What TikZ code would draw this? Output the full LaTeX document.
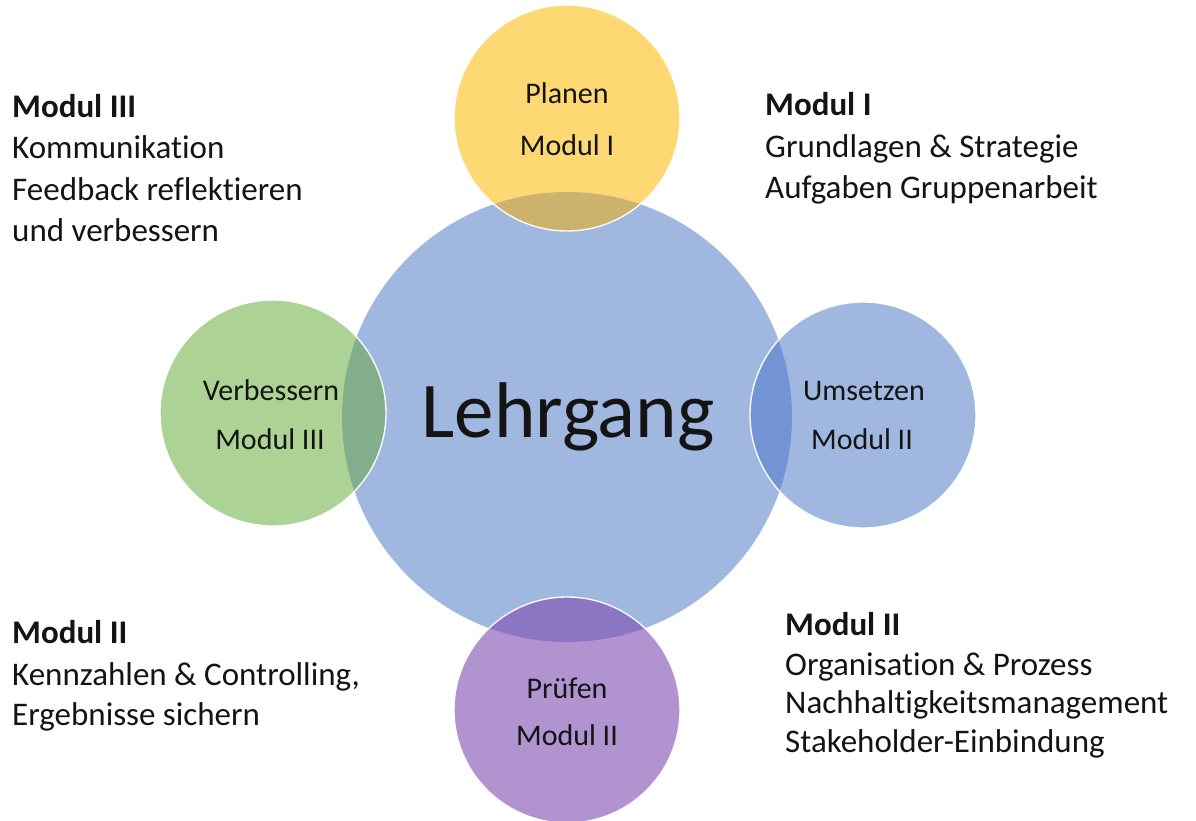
\documentclass[tikz,border=0pt]{standalone}
\usepackage{fontspec}
\setmainfont{Carlito}[RawFeature={-liga;-clig;-dlig;-calt}]
\definecolor{cyel}{RGB}{254,217,115}
\definecolor{cblue}{RGB}{160,183,223}
\definecolor{cgreen}{RGB}{172,210,150}
\definecolor{cpurp}{RGB}{177,147,208}
\definecolor{oyel}{RGB}{204,178,108}
\definecolor{oblue}{RGB}{115,148,212}
\definecolor{ogreen}{RGB}{130,174,140}
\definecolor{opurp}{RGB}{140,118,196}
\definecolor{txt}{RGB}{20,20,20}
\begin{document}
\begin{tikzpicture}[x=1pt,y=-1pt,
  bubble/.style={circle, inner sep=0pt, draw=none},
  rim/.style={draw=white, line width=1.3pt},
  clabel/.style={font=\fontsize{30}{36}\selectfont, anchor=base, inner sep=0pt, text=txt},
  sideline/.style={font=\fontsize{33}{40}\selectfont, anchor=base west, inner sep=0pt, text=txt},
  sidehead/.style={sideline, font=\fontsize{33}{40}\selectfont\bfseries},
  bigtitle/.style={font=\fontsize{79}{90}\selectfont, anchor=base, inner sep=0pt, text=txt}]
\useasboundingbox (0,0) rectangle (1196,820);
\fill[white] (0,0) rectangle (1196,820);

% circles
\node[bubble, fill=cblue, minimum size=450pt] (lehr) at (567,417) {};
\node[bubble, fill=cyel, minimum size=226pt] (plan) at (567,118) {};
\node[bubble, fill=cgreen, minimum size=226pt] (verb) at (273,413) {};
\node[bubble, fill=cblue, minimum size=226pt] (ums) at (863,415) {};
\node[bubble, fill=cpurp, minimum size=226pt] (pruef) at (567,710) {};

% overlaps
\begin{scope}
  \clip (lehr.center) circle[radius=225pt];
  \fill[oyel] (plan.center) circle[radius=113pt];
  \fill[ogreen] (verb.center) circle[radius=113pt];
  \fill[oblue] (ums.center) circle[radius=113pt];
  \fill[opurp] (pruef.center) circle[radius=113pt];
\end{scope}

% white rims
\draw[rim] (plan.center) circle[radius=113pt];
\draw[rim] (verb.center) circle[radius=113pt];
\draw[rim] (ums.center) circle[radius=113pt];
\draw[rim] (pruef.center) circle[radius=113pt];

% circle labels
\node[bigtitle] (t0) at (568,437) {Lehrgang};
\node[clabel] (t1a) at (567,103) {Planen};
\node[clabel] (t1b) at (567,155) {Modul I};
\node[clabel] (t2a) at (271,400) {Verbessern};
\node[clabel] (t2b) at (270,449) {Modul III};
\node[clabel] (t3a) at (864,400) {Umsetzen};
\node[clabel] (t3b) at (862,449) {Modul II};
\node[clabel] (t4a) at (567,698) {Prüfen};
\node[clabel] (t4b) at (567,745) {Modul II};

% side texts
\node[sidehead] (a0) at (12,117) {Modul III};
\node[sideline] (a1) at (12,158) {Kommunikation};
\node[sideline] (a2) at (12,200) {Feedback reflektieren};
\node[sideline] (a3) at (12,241) {und verbessern};

\node[sidehead] (b0) at (765,115) {Modul I};
\node[sideline] (b1) at (765,157) {Grundlagen \& Strategie};
\node[sideline] (b2) at (765,198) {Aufgaben Gruppenarbeit};

\node[sidehead] (c0) at (12,643) {Modul II};
\node[sideline] (c1) at (12,685) {Kennzahlen \& Controlling,};
\node[sideline] (c2) at (12,725) {Ergebnisse sichern};

\node[sidehead] (d0) at (785,635) {Modul II};
\node[sideline] (d1) at (785,675) {Organisation \& Prozess};
\node[sideline] (d2) at (785,713) {Nachhaltigkeitsmanagement};
\node[sideline] (d3) at (785,752) {Stakeholder-Einbindung};
\end{tikzpicture}
\end{document}
